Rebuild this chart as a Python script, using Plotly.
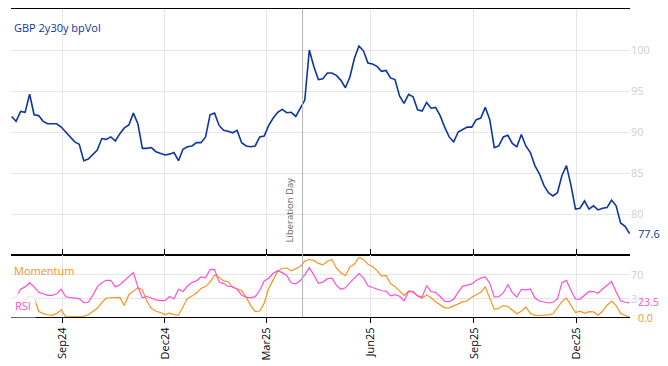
import pandas as pd
import plotly.graph_objects as go

# ---------------- data ----------------
start_date = "2024-07-18"
n_points = 138
dates = pd.date_range(start_date, periods=n_points, freq="4D")

bpvol = [91.9, 91.3, 92.5, 92.4, 94.6, 92.1, 92.0, 91.3, 91.0, 91.0,
         91.0, 90.6, 90.0, 89.5, 88.8, 88.5, 86.5, 86.7, 87.2, 87.8,
         89.2, 89.1, 89.4, 88.9, 89.8, 90.5, 90.85, 92.3, 91.0, 88.0,
         88.0, 88.1, 87.6, 87.4, 87.2, 87.3, 87.5, 86.5, 87.9, 88.2,
         88.3, 88.7, 88.7, 89.4, 92.1, 92.3, 90.8, 90.2, 90.1, 89.9,
         90.2, 88.7, 88.3, 88.2, 88.3, 89.4, 89.5, 90.8, 91.7, 92.4,
         92.75, 92.35, 92.4, 91.9, 93.0, 93.9, 100.0, 98.0, 96.4, 96.5,
         97.2, 97.2, 96.9, 96.3, 95.4, 96.7, 99.0, 100.5, 99.9, 98.4,
         98.3, 98.0, 97.4, 97.5, 96.6, 96.4, 94.4, 93.5, 94.6, 94.3,
         92.7, 92.55, 93.6, 92.9, 93.0, 92.0, 90.6, 89.4, 88.8, 90.0,
         90.3, 90.6, 90.6, 91.5, 91.7, 93.0, 91.5, 88.1, 88.3, 89.4,
         89.6, 88.6, 88.2, 89.7, 88.3, 87.5, 85.9, 84.9, 83.5, 82.6,
         82.2, 82.6, 84.7, 85.9, 83.5, 80.6, 80.7, 81.6, 80.6, 81.0,
         80.5, 80.7, 80.8, 81.7, 81.0, 78.9, 78.5, 77.6]

rsi = [30, 33, 46, 50, 57, 50, 41, 38.5, 36, 36,
       38.5, 46, 33.5, 32.2, 31.5, 30.5, 24, 24.5, 36, 50,
       57, 61, 61, 50, 53.5, 60, 68, 74, 50, 32,
       34, 31, 28.5, 27.2, 27.1, 34, 30, 46, 42.5, 51.5,
       57.5, 60, 66.5, 65, 78.8, 79.2, 58, 55.5, 50.7, 50.7,
       46, 36.5, 32.5, 32.3, 33.7, 44, 60, 64.4, 72.6, 77,
       73.7, 69, 56.5, 55, 60.5, 70, 82, 70, 56, 58,
       63.7, 64.5, 53, 46, 48.5, 57, 64, 72, 65, 52,
       49, 46, 43.6, 43, 35, 37, 34.5, 27.1, 42.5, 41.5,
       35, 33, 52, 42, 41, 34, 26, 25.5, 29.5, 41.4,
       51.3, 53, 55, 60.5, 64.6, 66.5, 56, 33.5, 33.6, 40,
       54, 40.5, 33.3, 46, 45, 46.5, 31.5, 26.5, 24.5, 23.3,
       24.5, 30, 57, 60.8, 44, 29.5, 29.8, 36, 42.5, 42.3,
       39.5, 46.4, 52, 59, 42, 27, 24.5, 23.5]

momentum = [2, 10, 20, 30, 35, 33, 9.5, 5.5, 3.7, 2.6,
            6, 12, 0.3, 0.2, 0.3, 0.5, 1.0, 3.8, 9.5, 14.5,
            24, 31.5, 32, 32, 32.5, 19, 37.5, 43, 48.5, 45,
            26, 14, 9.5, 7.5, 4, 6.5, 4, 3, 18, 31,
            35, 40, 47.5, 50.5, 58, 69.8, 65.5, 60, 59, 49,
            47, 44, 33, 19, 9, 10, 23, 47.5, 61.7, 76,
            81, 81.3, 76.6, 80, 84, 93, 95.5, 94, 89, 86.5,
            92.7, 95.5, 81, 73.5, 68.6, 83, 88, 99, 95.7, 87.5,
            84, 77, 68, 69, 55.5, 50.5, 43.6, 36, 43, 42.5,
            35, 30.9, 36.5, 32, 25.2, 20.3, 15.2, 15.1, 18.3, 22.8,
            25.2, 27, 33, 37, 41, 50, 30, 12.7, 14.5, 19,
            17.4, 10.8, 5.4, 9.4, 16.7, 6.2, 2.5, 2.5, 3, 3.5,
            5.3, 14.8, 25.6, 31.4, 19, 7.5, 9.6, 6, 9, 8.4,
            3, 9.5, 19.6, 26.5, 19, 6, 2.5, 0.0]

tick_dates = ["2024-09-01", "2024-12-01", "2025-03-01",
              "2025-06-01", "2025-09-01", "2025-12-01"]
tick_labels = ["Sep24", "Dec24", "Mar25", "Jun25", "Sep25", "Dec25"]

main_ticks = [80, 85, 90, 95, 100]
osc_ticks = [30, 70]
event_date = "2025-04-02"
event_label = "Liberation Day"

# ---------------- style ----------------
BLUE = "#0d35a3"
ORANGE = "#f7931e"
PINK = "#ff4fd8"
GRID = "#e6e6e6"
TICKGRAY = "#cfcfcf"
FONT = "Open Sans"

x_range = [dates[0] - pd.Timedelta(hours=12), dates[-1] + pd.Timedelta(hours=8)]

fig = go.Figure()
fig.add_trace(go.Scatter(x=dates, y=bpvol, mode="lines",
                         line=dict(color=BLUE, width=1.6),
                         xaxis="x", yaxis="y", showlegend=False, hoverinfo="skip"))
fig.add_trace(go.Scatter(x=dates, y=momentum, mode="lines",
                         line=dict(color=ORANGE, width=1.2),
                         xaxis="x2", yaxis="y2", showlegend=False, hoverinfo="skip"))
fig.add_trace(go.Scatter(x=dates, y=rsi, mode="lines",
                         line=dict(color=PINK, width=1.2),
                         xaxis="x2", yaxis="y2", showlegend=False, hoverinfo="skip"))

split = 62 / 308

# the page body adds an 8px margin, so the figure is 8px smaller each way
fig.update_layout(
    width=660, height=358,
    margin=dict(l=3, r=38, t=1, b=49, autoexpand=False),
    paper_bgcolor="white", plot_bgcolor="white",
    font=dict(family=FONT, size=11, color="black"),
    xaxis=dict(domain=[0, 1], anchor="y", type="date", range=x_range,
               tickvals=tick_dates, ticktext=tick_labels, showticklabels=False,
               showgrid=True, gridcolor=GRID, gridwidth=1,
               showline=True, linecolor="black", linewidth=1, mirror=True,
               ticks="", zeroline=False, automargin=False),
    yaxis=dict(domain=[split, 1], anchor="x", side="right", range=[75, 105],
               tickvals=main_ticks, showgrid=True, gridcolor=GRID,
               tickfont=dict(color=TICKGRAY, size=11), zeroline=False,
               showline=False, ticks="", automargin=False),
    xaxis2=dict(domain=[0, 1], anchor="y2", type="date", range=x_range,
                matches="x", tickvals=tick_dates, ticktext=tick_labels,
                tickangle=-90, tickfont=dict(size=11, color="black"),
                showgrid=True, gridcolor=GRID,
                showline=True, linecolor="black", linewidth=1.2, mirror="ticks",
                ticks="outside", ticklen=5, tickcolor="black", zeroline=False,
                automargin=False),
    yaxis2=dict(domain=[0, split], anchor="x2", side="right", range=[0, 103],
                tickvals=osc_ticks, showgrid=True, gridcolor=GRID,
                tickfont=dict(color=TICKGRAY, size=11), zeroline=False,
                showline=False, ticks="", automargin=False),
)

fig.add_shape(type="line", xref="x", yref="paper", x0=event_date, x1=event_date,
              y0=0, y1=1, line=dict(color="#b5b5b5", width=1), layer="above")

fig.add_annotation(x=event_date, xref="x", y=76.3, yref="y", text=event_label,
                   textangle=-90, showarrow=False, xanchor="center", yanchor="bottom",
                   xshift=-13, font=dict(size=9.5, color="#666666"))

fig.add_annotation(x=0, xref="paper", y=1, yref="paper", text="GBP 2y30y bpVol",
                   showarrow=False, xanchor="left", yanchor="top", xshift=1, yshift=-9,
                   font=dict(size=11, color=BLUE))

fig.add_annotation(x=0, xref="paper", y=split, yref="paper", text="Momentum",
                   showarrow=False, xanchor="left", yanchor="top", xshift=1, yshift=-6,
                   font=dict(size=11, color=ORANGE))

fig.add_annotation(x=0, xref="paper", y=19, yref="y2", text="RSI",
                   showarrow=False, xanchor="left", yanchor="middle", xshift=-1,
                   bgcolor="rgba(255,255,255,0.8)", borderpad=4,
                   font=dict(size=11, color=PINK))

# last value labels
fig.add_annotation(x=1, xref="paper", y=bpvol[-1], yref="y", text=f"{bpvol[-1]:.1f}",
                   showarrow=False, xanchor="left", yanchor="middle", xshift=6,
                   font=dict(size=11, color=BLUE))
fig.add_annotation(x=1, xref="paper", y=rsi[-1], yref="y2", text=f"{rsi[-1]:.1f}",
                   showarrow=False, xanchor="left", yanchor="middle", xshift=6, yshift=1,
                   bgcolor="rgba(255,255,255,0.6)", font=dict(size=10.5, color=PINK))
fig.add_annotation(x=1, xref="paper", y=momentum[-1], yref="y2", text=f"{momentum[-1]:.1f}",
                   showarrow=False, xanchor="left", yanchor="middle", xshift=6, yshift=-1,
                   font=dict(size=10.5, color=ORANGE))

fig.write_html("out.html")
